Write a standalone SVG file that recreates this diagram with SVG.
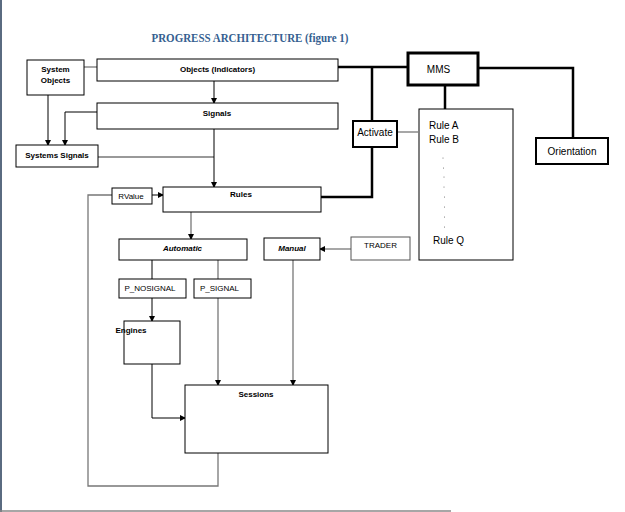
<svg xmlns="http://www.w3.org/2000/svg" width="625" height="512" viewBox="0 0 625 512">
<defs>
<style>
.box{fill:#fff;stroke:#000;stroke-width:1}
.gbox{fill:#fff;stroke:#555;stroke-width:1}
.thick{fill:#fff;stroke:#000;stroke-width:2}
.thick3{fill:#fff;stroke:#000;stroke-width:3}
.ln{fill:none;stroke:#000;stroke-width:1}
.gl{fill:none;stroke:#777;stroke-width:1.3}
.tl{fill:none;stroke:#000;stroke-width:2.5}
.t{font-family:"Liberation Sans",Arial,sans-serif;font-size:8px;font-weight:bold;fill:#000;text-anchor:middle}
.r{font-family:"Liberation Sans",Arial,sans-serif;font-size:8px;fill:#000;text-anchor:middle}
.a{font-family:"Liberation Sans",Arial,sans-serif;font-size:10px;fill:#000}
</style>
<marker id="ah" markerWidth="6" markerHeight="6" refX="5" refY="3" orient="auto" markerUnits="userSpaceOnUse">
<path d="M0,0 L6,3 L0,6 Z" fill="#000"/>
</marker>
</defs>
<rect x="0" y="0" width="625" height="512" fill="#fff"/>
<line x1="1" y1="0" x2="1" y2="512" stroke="#5a6b80" stroke-width="2"/>
<line x1="0" y1="511" x2="451" y2="511" stroke="#888" stroke-width="1.5"/>
<text x="250" y="42" font-family="'Liberation Serif','Times New Roman',serif" font-size="13" font-weight="bold" fill="#365F91" text-anchor="middle" textLength="197" lengthAdjust="spacingAndGlyphs">PROGRESS ARCHITECTURE (figure 1)</text>

<g id="connectors">
<line class="gl" x1="84" y1="67" x2="97" y2="67"/>
<line class="ln" x1="214" y1="81" x2="214" y2="103" marker-end="url(#ah)"/>
<line class="ln" x1="48" y1="95" x2="48" y2="145" marker-end="url(#ah)"/>
<polyline class="ln" points="97,112 65,112 65,145" marker-end="url(#ah)"/>
<line class="gl" x1="98" y1="157" x2="214" y2="157"/>
<line class="ln" x1="214" y1="129" x2="214" y2="187" marker-end="url(#ah)"/>
<line class="tl" x1="338" y1="67" x2="408" y2="67"/>
<line class="tl" x1="372" y1="67" x2="372" y2="121"/>
<polyline class="tl" points="372,147 372,197 321,197"/>
<line class="gl" x1="397" y1="132" x2="418" y2="132"/>
<line class="tl" x1="445" y1="85" x2="445" y2="109"/>
<polyline class="tl" points="478,68 573,68 573,138"/>
<line class="ln" x1="152" y1="195" x2="163" y2="195" marker-end="url(#ah)"/>
<polyline class="gl" points="112,195 88,195 88,486 218,486 218,453"/>
<line class="gl" x1="191" y1="212" x2="191" y2="239" marker-end="url(#ah)"/>
<line class="gl" x1="351" y1="249" x2="320" y2="249" marker-end="url(#ah)"/>
<line class="ln" x1="152" y1="260" x2="152" y2="279"/>
<line class="gl" x1="218" y1="260" x2="218" y2="279"/>
<line class="ln" x1="152" y1="298" x2="152" y2="321" marker-end="url(#ah)"/>
<polyline class="ln" points="152,364 152,418 185,418" marker-end="url(#ah)"/>
<line class="gl" x1="218" y1="298" x2="218" y2="385" marker-end="url(#ah)"/>
<line class="gl" x1="293" y1="260" x2="293" y2="385" marker-end="url(#ah)"/>
</g>

<g id="system-objects"><rect class="box" x="27" y="60" width="57" height="35"/><text class="t" x="55.5" y="72">System</text><text class="t" x="55.5" y="83">Objects</text></g>
<g id="objects-indicators"><rect class="box" x="97" y="59" width="241" height="22"/><text class="t" x="217.5" y="72">Objects (Indicators)</text></g>
<g id="signals"><rect class="box" x="97" y="103" width="241" height="26"/><text class="t" x="217" y="116">Signals</text></g>
<g id="systems-signals"><rect class="box" x="16" y="145" width="82" height="22"/><text class="t" x="57" y="158">Systems Signals</text></g>
<g id="mms"><rect class="thick3" x="408" y="53" width="70" height="32"/><text class="a" x="438.5" y="73" text-anchor="middle">MMS</text></g>
<g id="activate"><rect class="thick" x="353" y="121" width="44" height="26"/><text class="a" x="375" y="136" text-anchor="middle">Activate</text></g>
<g id="rule-list"><rect class="box" x="419" y="109" width="94" height="151"/>
<text class="a" x="429" y="129">Rule A</text><text class="a" x="429" y="143">Rule B</text>
<g fill="#555"><circle cx="443" cy="158" r="0.5"/><circle cx="443.5" cy="168" r="0.5"/><circle cx="444" cy="177" r="0.5"/><circle cx="444" cy="187" r="0.5"/><circle cx="444.5" cy="197" r="0.5"/><circle cx="444.5" cy="207" r="0.5"/><circle cx="444.5" cy="217" r="0.5"/><circle cx="444.5" cy="227" r="0.5"/></g>
<text class="a" x="433" y="244">Rule Q</text></g>
<g id="orientation"><rect class="thick" x="536" y="138" width="72" height="26"/><text class="a" x="572" y="155" text-anchor="middle">Orientation</text></g>
<g id="rvalue"><rect class="box" x="112" y="188" width="40" height="16"/><text class="r" x="131" y="199">RValue</text></g>
<g id="rules"><rect class="box" x="163" y="187" width="158" height="25"/><text class="t" x="241" y="197">Rules</text></g>
<g id="automatic"><rect class="box" x="119" y="239" width="128" height="21"/><text class="t" x="182.5" y="251" font-style="italic">Automatic</text></g>
<g id="manual"><rect class="box" x="264" y="238" width="56" height="22"/><text class="t" x="292" y="251" font-style="italic">Manual</text></g>
<g id="trader"><rect class="gbox" x="351" y="237" width="59" height="23"/><text class="r" x="380.5" y="248">TRADER</text></g>
<g id="p-nosignal"><rect class="box" x="119" y="279" width="67" height="19"/><text class="r" x="150" y="291">P_NOSIGNAL</text></g>
<g id="p-signal"><rect class="box" x="194" y="279" width="57" height="19"/><text class="r" x="219.5" y="291">P_SIGNAL</text></g>
<g id="engines"><rect class="box" x="124" y="321" width="56" height="43"/><text class="t" x="131" y="333" text-anchor="start">Engines</text></g>
<g id="sessions"><rect class="box" x="185" y="385" width="143" height="68"/><text class="t" x="256" y="397">Sessions</text></g>
</svg>
